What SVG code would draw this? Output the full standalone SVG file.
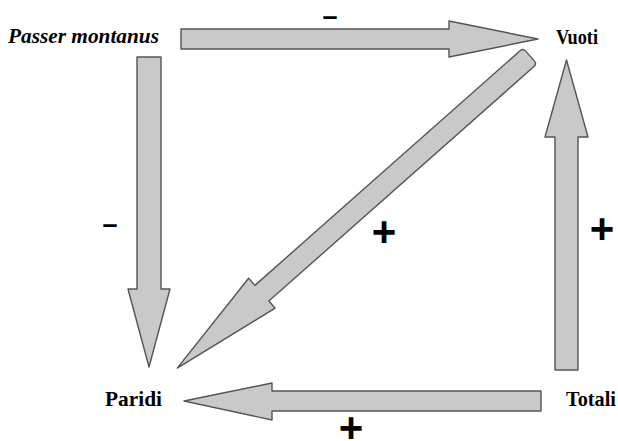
<svg xmlns="http://www.w3.org/2000/svg" width="618" height="441" viewBox="0 0 618 441">
<style>
.arrow{fill:#c9c9c9;stroke:#555;stroke-width:1.4;stroke-linejoin:round}
.node{font-family:"Liberation Serif","Times New Roman",serif;font-weight:bold;font-size:21px;fill:#000}
.sign{font-family:"Liberation Sans",Arial,sans-serif;font-weight:bold;fill:#000;text-anchor:middle}
</style>
<rect width="618" height="441" fill="#fff"/>
<g id="connectors">
<g id="e-passer-vuoti">
<polygon class="arrow" points="181,29 449,29 449,21 538,39 449,57 449,49 181,49"/>
<text class="sign" x="330" y="25" font-size="27">–</text>
</g>
<g id="e-passer-paridi">
<polygon class="arrow" points="137,57 161,57 161,289 170,289 149,367 128,289 137,289"/>
<text class="sign" x="110" y="233" font-size="27">–</text>
</g>
<g id="e-vuoti-paridi">
<path class="arrow" transform="translate(530,56) rotate(138.5)" d="M4,-10.5 L358,-10.5 L358,-20 L471,0 L358,20 L358,10.5 L4,10.5 Q0,10.5 0,6.5 L0,-6.5 Q0,-10.5 4,-10.5 Z"/>
<text class="sign" x="384" y="246" font-size="42">+</text>
</g>
<g id="e-totali-vuoti">
<polygon class="arrow" points="555,370 578,370 578,137 588,137 566.5,60 545,137 555,137"/>
<text class="sign" x="602" y="243" font-size="42">+</text>
</g>
<g id="e-totali-paridi">
<polygon class="arrow" points="541,391 541,411 272,411 272,420 184,401 272,383 272,391"/>
<text class="sign" x="351" y="442" font-size="42">+</text>
</g>
</g>
<g id="n-passer"><text class="node" x="8" y="43" font-style="italic" textLength="151" lengthAdjust="spacingAndGlyphs">Passer montanus</text></g>
<g id="n-vuoti"><text class="node" x="556" y="44" textLength="42" lengthAdjust="spacingAndGlyphs">Vuoti</text></g>
<g id="n-paridi"><text class="node" x="105" y="406" textLength="57" lengthAdjust="spacingAndGlyphs">Paridi</text></g>
<g id="n-totali"><text class="node" x="566" y="406" textLength="50" lengthAdjust="spacingAndGlyphs">Totali</text></g>
</svg>
